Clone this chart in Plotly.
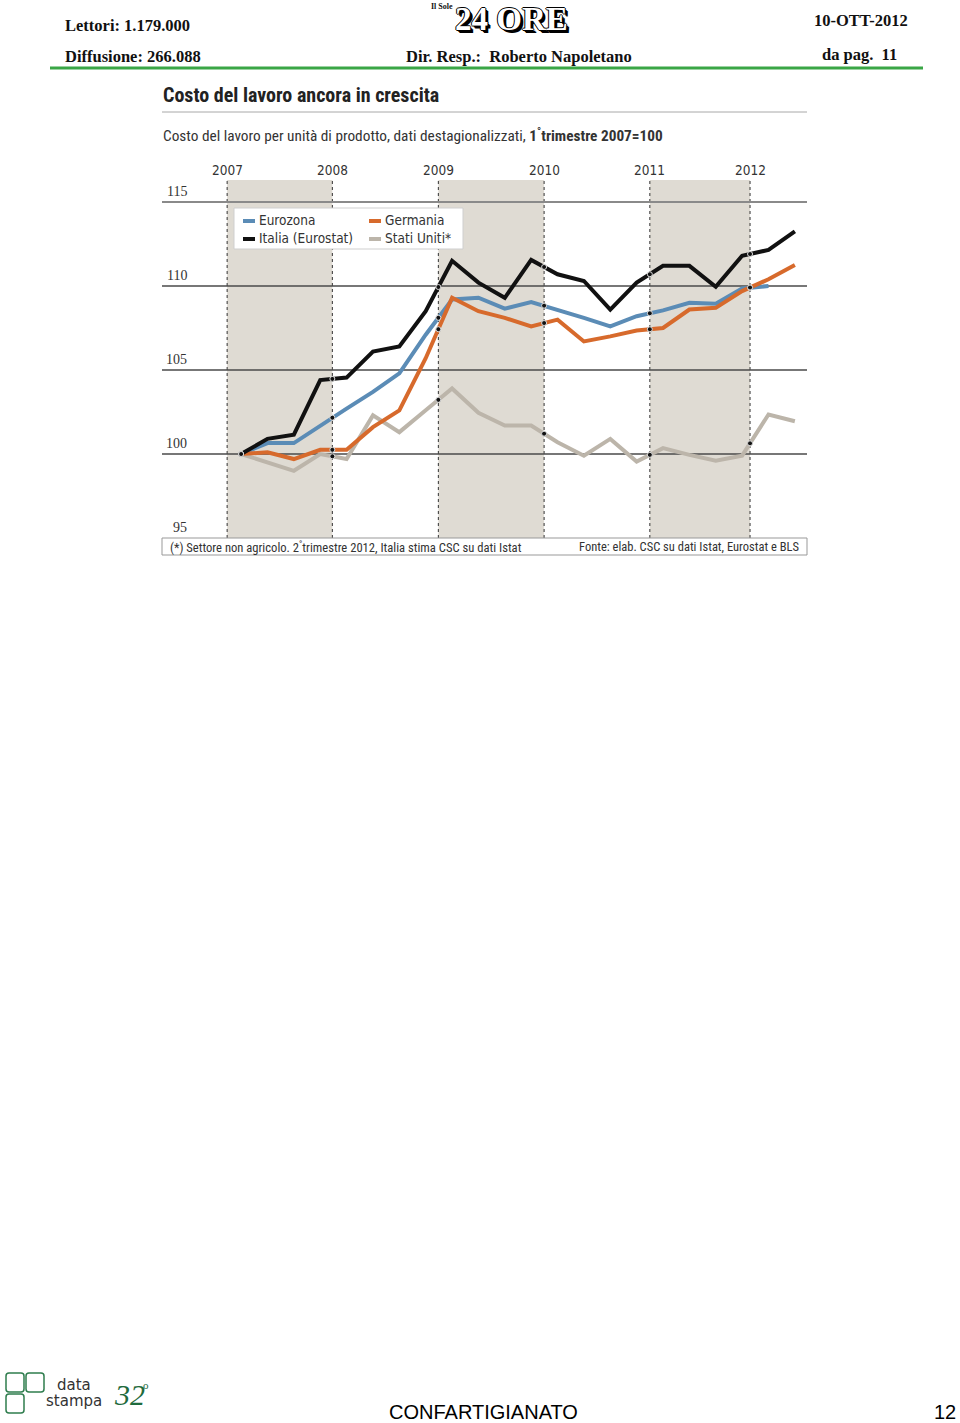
import numpy as np
import plotly.graph_objects as go

W, H = 960, 1423

# trimestri dal 1° 2007 al 2° 2012 (indice 0..21)
TRIMESTRI = list(range(22))
ANNI = ["2007", "2008", "2009", "2010", "2011", "2012"]
POS_ANNI = [-0.53, 3.46, 7.48, 11.49, 15.5, 19.3]
Y_TICKS = [95, 100, 105, 110, 115]

EUROZONA = [100, 100.65, 100.65, 101.7, 102.7, 103.7, 104.8, 107.1, 109.2, 109.3, 108.65,
            109.05, 108.6, 108.1, 107.6, 108.2, 108.55, 109.0, 108.95, 109.85, 110.0, None]
GERMANIA = [100, 100.1, 99.7, 100.25, 100.25, 101.6, 102.6, 105.7, 109.3, 108.5, 108.1,
            107.6, 108.0, 106.7, 107.0, 107.35, 107.5, 108.6, 108.7, 109.7, 110.4, 111.25]
ITALIA = [100, 100.9, 101.15, 104.4, 104.55, 106.1, 106.4, 108.5, 111.5, 110.2, 109.3,
          111.55, 110.7, 110.3, 108.6, 110.2, 111.2, 111.2, 109.95, 111.8, 112.15, 113.25]
USA = [100, 99.5, 99.0, 100.0, 99.7, 102.3, 101.3, 102.6, 103.9, 102.45, 101.7,
       101.7, 100.7, 99.9, 100.9, 99.55, 100.35, 99.95, 99.6, 99.9, 102.35, 101.95]

SERIE = [
    ("Eurozona", EUROZONA, "#5b8cb6"),
    ("Germania", GERMANIA, "#d76a2c"),
    ("Italia (Eurostat)", ITALIA, "#111111"),
    ("Stati Uniti*", USA, "#bcb5aa"),
]

NARROW = "Liberation Sans Narrow, Arial Narrow, Roboto Condensed, Roboto"
COND = "DejaVu Sans Condensed, DejaVu Sans"
SERIF = "Liberation Serif, Times New Roman, serif"


def px(x):
    return x / W


def py(y):
    return 1 - y / H


fig = go.Figure()

# linee delle serie (ordine di disegno: USA sotto)
for nome, val, col in [SERIE[3], SERIE[0], SERIE[1], SERIE[2]]:
    fig.add_trace(go.Scatter(x=TRIMESTRI, y=val, mode="lines", name=nome,
                             line=dict(color=col, width=4), showlegend=False,
                             hoverinfo="skip"))

# pallini agli incroci con le linee degli anni
for nome, val, col in SERIE:
    v = np.array([np.nan if a is None else a for a in val], dtype=float)
    ok = ~np.isnan(v)
    xs = [0] + [p for p in POS_ANNI[1:] if p <= np.array(TRIMESTRI)[ok].max()]
    ys = np.interp(xs, np.array(TRIMESTRI)[ok], v[ok])
    fig.add_trace(go.Scatter(x=xs, y=ys, mode="markers", showlegend=False,
                             hoverinfo="skip",
                             marker=dict(color="#111", size=5,
                                         line=dict(color="#dddddd", width=1))))

shapes = []
# bande anni alterni
for i in (0, 2, 4):
    shapes.append(dict(type="rect", xref="x", yref="y domain", x0=POS_ANNI[i], x1=POS_ANNI[i + 1],
                       y0=0, y1=1, fillcolor="#dfdbd3", line_width=0, layer="below"))
# linee punteggiate degli anni
for p in POS_ANNI:
    shapes.append(dict(type="line", xref="x", yref="y domain", x0=p, x1=p, y0=0, y1=1,
                       line=dict(color="#333", width=1, dash="dot"), layer="below"))
# griglia orizzontale
for t in Y_TICKS[1:]:
    shapes.append(dict(type="line", xref="x domain", yref="y", x0=0, x1=1, y0=t, y1=t,
                       line=dict(color="#8a8a8a" if t == 115 else "#4a4a4a",
                                 width=2 if t == 115 else 1.3), layer="below"))
# riquadro legenda
shapes.append(dict(type="rect", xref="paper", yref="paper", x0=px(234), x1=px(463),
                   y0=py(249), y1=py(208), fillcolor="white",
                   line=dict(color="#cfcfcf", width=1), layer="below"))
leg_pos = [(243, 220), (369, 220), (243, 238), (369, 238)]
for (nome, val, col), (lx, ly) in zip(SERIE, leg_pos):
    shapes.append(dict(type="line", xref="paper", yref="paper", x0=px(lx), x1=px(lx + 12),
                       y0=py(ly + 1), y1=py(ly + 1), line=dict(color=col, width=4)))
    fig.add_annotation(x=px(lx + 14), y=py(ly), xref="paper", yref="paper", text=nome,
                       showarrow=False, xanchor="left", yanchor="middle",
                       font=dict(family=COND, size=13.5, color="#333"))

# linea sotto il titolo
shapes.append(dict(type="line", xref="paper", yref="paper", x0=px(162), x1=px(807),
                   y0=py(112), y1=py(112), line=dict(color="#a8a8a8", width=1)))
# box note
shapes.append(dict(type="rect", xref="paper", yref="paper", x0=px(162), x1=px(807),
                   y0=py(555), y1=py(538), fillcolor="white",
                   line=dict(color="#999", width=1)))
# linea verde testata
shapes.append(dict(type="line", xref="paper", yref="paper", x0=px(50), x1=px(923),
                   y0=py(68), y1=py(68), line=dict(color="#3aa646", width=3)))
# logo datastampa
for x0, y0 in [(6, 1373), (26, 1373), (6, 1394)]:
    shapes.append(dict(type="path", xref="paper", yref="paper",
                       path=(f"M {px(x0 + 3)} {py(y0)} L {px(x0 + 15)} {py(y0)} "
                             f"Q {px(x0 + 18)} {py(y0)} {px(x0 + 18)} {py(y0 + 3)} "
                             f"L {px(x0 + 18)} {py(y0 + 16)} "
                             f"Q {px(x0 + 18)} {py(y0 + 19)} {px(x0 + 15)} {py(y0 + 19)} "
                             f"L {px(x0 + 3)} {py(y0 + 19)} "
                             f"Q {px(x0)} {py(y0 + 19)} {px(x0)} {py(y0 + 16)} "
                             f"L {px(x0)} {py(y0 + 3)} "
                             f"Q {px(x0)} {py(y0)} {px(x0 + 3)} {py(y0)} Z"),
                       line=dict(color="#2f7d4e", width=1.5)))
fig.update_layout(shapes=shapes)

# anni
for a, p in zip(ANNI, POS_ANNI):
    fig.add_annotation(x=p, y=py(170), xref="x", yref="paper", text=a, showarrow=False,
                       xanchor="center", yanchor="middle",
                       font=dict(family=COND, size=13.5, color="#333"))
# etichette asse y
for t in Y_TICKS:
    fig.add_annotation(x=px(189), y=t, xref="paper", yref="y", text=str(t), showarrow=False,
                       xanchor="right", yanchor="bottom", yshift=1,
                       font=dict(family=SERIF, size=14, color="#333"))


def testo(s, x, y, size, family, color="#111", anchor="left", shadow=None):
    font = dict(family=family, size=size, color=color)
    if shadow:
        font["shadow"] = shadow
    fig.add_annotation(x=px(x), y=py(y), xref="paper", yref="paper", text=s, showarrow=False,
                       xanchor=anchor, yanchor="middle", font=font)


testo("<b>Costo del lavoro ancora in crescita</b>", 161, 95, 20, NARROW, "#222")
testo("Costo del lavoro per unità di prodotto, dati destagionalizzati, "
      "<b>1<sup>°</sup>trimestre 2007=100</b>", 161, 135, 15.3, NARROW, "#333")
testo("(*) Settore non agricolo. 2<sup>°</sup>trimestre 2012, Italia stima CSC su dati Istat",
      168, 547, 12.6, NARROW, "#333")
testo("Fonte: elab. CSC su dati Istat, Eurostat e BLS", 801, 547, 12.5, NARROW, "#333", "right")

# testata
testo("<b>Lettori: 1.179.000</b>", 63, 25, 16.5, SERIF)
testo("<b>Diffusione: 266.088</b>", 63, 56, 16.5, SERIF)
testo("<b>Dir. Resp.:  Roberto Napoletano</b>", 404, 56, 16.5, SERIF)
testo("<b>10-OTT-2012</b>", 910, 21, 16.5, SERIF, anchor="right")
testo("<b>da pag.  11</b>", 899, 54, 16.5, SERIF, anchor="right")
testo("<b>Il Sole</b>", 442, 7, 8, SERIF, anchor="center")
testo("<b>24 ORE</b>", 511, 19, 33, SERIF, "#ffffff", "center",
      shadow="-1px 0 0 #000, 1px 0 0 #000, 0 -1px 0 #000, 0 1px 0 #000, "
             "2px 2px 0 #000, 3px 3px 0 #000")

# piede
testo("data", 55, 1385, 15, "DejaVu Sans", "#333")
testo("stampa", 44, 1401, 15, "DejaVu Sans", "#333")
testo("<i>32</i>", 112, 1394, 30, SERIF, "#1f6b3d")
testo("o", 141, 1385, 11, SERIF, "#1f6b3d")
testo("CONFARTIGIANATO", 483, 1412, 20, "Liberation Sans, Arial", "#000", "center")
testo("12", 958, 1412, 20, "Liberation Sans, Arial", "#000", "right")

fig.update_layout(
    width=W, height=H,
    margin=dict(l=0, r=0, t=0, b=0),
    paper_bgcolor="white", plot_bgcolor="white",
    xaxis=dict(domain=[px(162), px(807)], range=[-3.0, 21.46], visible=False),
    yaxis=dict(domain=[py(538), py(180)], range=[95, 116.31], visible=False),
)

# niente margine di default del body, così la figura copre tutta la finestra
fig.write_html("out.html", config={"displayModeBar": False},
               post_script="document.body.style.margin='0';")
